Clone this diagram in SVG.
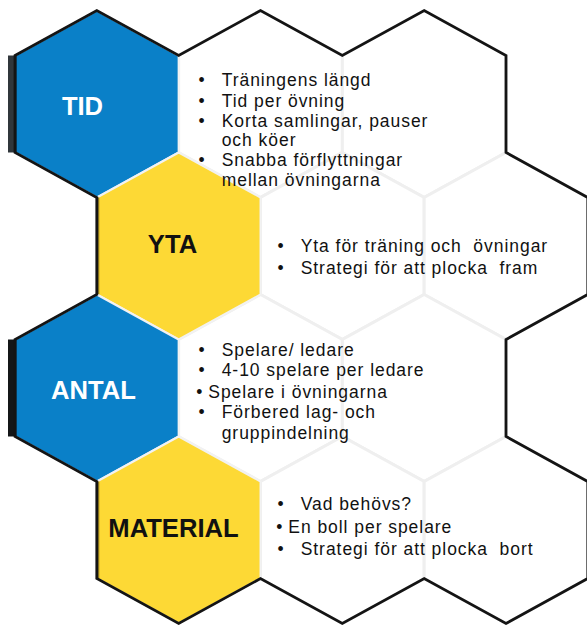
<svg xmlns="http://www.w3.org/2000/svg" xmlns:xlink="http://www.w3.org/1999/xlink" width="587" height="627" viewBox="0 0 587 627">
<style>
  .cell { fill: #ffffff; stroke: #efefef; stroke-width: 3; }
  .blue { fill: #0a80c8; stroke: #f2f2f2; stroke-width: 2; }
  .yellow { fill: #fdd935; stroke: #f2f2f2; stroke-width: 2; }
  .outline { fill: none; stroke: #141414; stroke-width: 2.8; stroke-linejoin: miter; }
  .label { font-family: "Liberation Sans", Arial, sans-serif; font-weight: bold; font-size: 25.6px; text-anchor: middle; }
  .light { fill: #ffffff; }
  .dark { fill: #111111; }
  .list { font-family: "Liberation Sans", Arial, sans-serif; font-size: 17.5px; letter-spacing: 0.95px; fill: #111111; }
</style>
<defs>
  <polygon id="hex" points="0,-93.5 81.83,-48.5 81.83,48.5 0,93.5 -81.83,48.5 -81.83,-48.5"/>
</defs>
<rect x="0" y="0" width="587" height="627" fill="#ffffff"/>

<g id="grid">
  <use xlink:href="#hex" href="#hex" class="cell" x="260.5" y="104"/>
  <use xlink:href="#hex" href="#hex" class="cell" x="424.2" y="104"/>
  <use xlink:href="#hex" href="#hex" class="cell" x="342.3" y="246"/>
  <use xlink:href="#hex" href="#hex" class="cell" x="506" y="246"/>
  <use xlink:href="#hex" href="#hex" class="cell" x="260.5" y="388"/>
  <use xlink:href="#hex" href="#hex" class="cell" x="424.2" y="388"/>
  <use xlink:href="#hex" href="#hex" class="cell" x="342.3" y="530"/>
  <use xlink:href="#hex" href="#hex" class="cell" x="506" y="530"/>
</g>

<g id="tid">
  <use xlink:href="#hex" href="#hex" class="blue" x="96.8" y="104"/>
  <rect x="8" y="55.5" width="7.5" height="97" fill="#30363b"/>
  <rect x="15.5" y="55.5" width="1.5" height="97" fill="#0b4f7a"/>
  <text class="label light" x="82.5" y="115">TID</text>
</g>

<g id="yta">
  <use xlink:href="#hex" href="#hex" class="yellow" x="178.7" y="246"/>
  <rect x="96.8" y="197.5" width="2.5" height="97" fill="#9c8321"/>
  <text class="label dark" x="172.5" y="253">YTA</text>
</g>

<g id="antal">
  <use xlink:href="#hex" href="#hex" class="blue" x="96.8" y="388"/>
  <rect x="8" y="339.5" width="7.5" height="97" fill="#141618"/>
  <rect x="15.5" y="339.5" width="1.5" height="97" fill="#0b4f7a"/>
  <text class="label light" x="93.5" y="399">ANTAL</text>
</g>

<g id="material">
  <use xlink:href="#hex" href="#hex" class="yellow" x="178.7" y="530"/>
  <rect x="96.8" y="481.5" width="2.5" height="97" fill="#9c8321"/>
  <text class="label dark" x="173.5" y="537">MATERIAL</text>
</g>

<g id="outline">
  <path class="outline" d="M15,55.5 L96.8,10.5 L178.7,55.5 L260.5,10.5 L342.3,55.5 L424.2,10.5 L506,55.5 L506,152.5 L587.8,197.5 L587.8,294.5 L506,339.5 L506,436.5 L587.8,481.5 L587.8,578.5 L506,623.5 L424.2,578.5 L342.3,623.5 L260.5,578.5 L178.7,623.5 L96.8,578.5 L96.8,481.5 L15,436.5 L15,339.5 L96.8,294.5 L96.8,197.5 L15,152.5 Z"/>
</g>

<g id="tid-list" class="list">
  <text y="86"><tspan x="198.6">•</tspan><tspan x="221.7">Träningens längd</tspan></text>
  <text y="106.7"><tspan x="198.6">•</tspan><tspan x="221.7">Tid per övning</tspan></text>
  <text y="126.7"><tspan x="198.6">•</tspan><tspan x="221.7">Korta samlingar, pauser</tspan></text>
  <text x="221.7" y="146">och köer</text>
  <text y="166"><tspan x="198.6">•</tspan><tspan x="221.7">Snabba förflyttningar</tspan></text>
  <text x="221.7" y="186">mellan övningarna</text>
</g>

<g id="yta-list" class="list">
  <text y="251.5" xml:space="preserve"><tspan x="277.6">•</tspan><tspan x="300.7">Yta för träning och  övningar</tspan></text>
  <text y="274.3" xml:space="preserve"><tspan x="277.6">•</tspan><tspan x="300.7">Strategi för att plocka  fram</tspan></text>
</g>

<g id="antal-list" class="list">
  <text y="355.5"><tspan x="198.6">•</tspan><tspan x="221.7">Spelare/ ledare</tspan></text>
  <text y="376"><tspan x="198.6">•</tspan><tspan x="221.7">4-10 spelare per ledare</tspan></text>
  <text y="398"><tspan x="196.2">•</tspan><tspan x="208.3">Spelare i övningarna</tspan></text>
  <text y="418"><tspan x="198.6">•</tspan><tspan x="221.7">Förbered lag- och</tspan></text>
  <text x="221.7" y="438.5">gruppindelning</text>
</g>

<g id="material-list" class="list">
  <text y="510"><tspan x="277.6">•</tspan><tspan x="300.7">Vad behövs?</tspan></text>
  <text y="533.3"><tspan x="276.2">•</tspan><tspan x="288.3">En boll per spelare</tspan></text>
  <text y="555" xml:space="preserve"><tspan x="277.6">•</tspan><tspan x="300.7">Strategi för att plocka  bort</tspan></text>
</g>

<g id="connectors"/>
</svg>
